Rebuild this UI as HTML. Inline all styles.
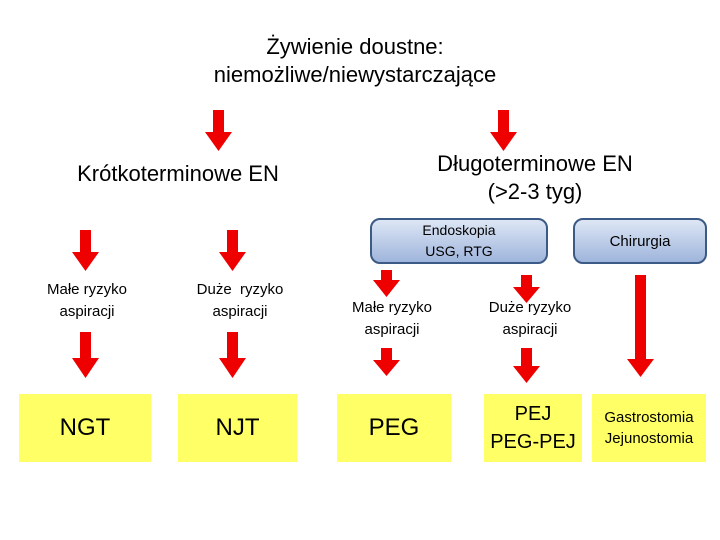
<!DOCTYPE html>
<html><head><meta charset="utf-8"><style>
body{margin:0;width:720px;height:540px;background:#fff;position:relative;overflow:hidden;font-family:"Liberation Sans",sans-serif;color:#000}
.t{position:absolute;text-align:center;white-space:nowrap;transform:translateX(-50%)}
.y{position:absolute;background:#ffff66;display:flex;align-items:center;justify-content:center;text-align:center}
.b{position:absolute;border:2px solid #3b5a85;border-radius:10px;background:linear-gradient(#dde6f5,#9fb5dc);display:flex;align-items:center;justify-content:center;text-align:center;font-size:14px;line-height:21px;box-sizing:border-box}
</style></head><body>
<svg width="720" height="540" style="position:absolute;left:0;top:0">
<g fill="#ee0000">
<path d="M213,110h11v22h8l-13.5,19l-13.5,-19h8z"/>
<path d="M498,110h11v22h8l-13.5,19l-13.5,-19h8z"/>
<path d="M80,230h11v22h8l-13.5,19l-13.5,-19h8z"/>
<path d="M227,230h11v22h8l-13.5,19l-13.5,-19h8z"/>
<path d="M80,332h11v26h8l-13.5,20l-13.5,-20h8z"/>
<path d="M227,332h11v26h8l-13.5,20l-13.5,-20h8z"/>
<path d="M381,270h11v10h8l-13.5,17l-13.5,-17h8z"/>
<path d="M521,275h11v12h8l-13.5,16l-13.5,-16h8z"/>
<path d="M381,348h11v12h8l-13.5,16l-13.5,-16h8z"/>
<path d="M521,348h11v18h8l-13.5,17l-13.5,-17h8z"/>
<path d="M635,275h11v84h8l-13.5,18l-13.5,-18h8z"/>
</g></svg>
<div class="t" style="left:355px;top:33px;font-size:22px;line-height:28px">Żywienie doustne:<br>niemożliwe/niewystarczające</div>
<div class="t" style="left:178px;top:161px;font-size:22px">Krótkoterminowe EN</div>
<div class="t" style="left:535px;top:150px;font-size:22px;line-height:28px">Długoterminowe EN<br>(&gt;2-3 tyg)</div>
<div class="b" style="left:370px;top:218px;width:178px;height:46px">Endoskopia<br>USG, RTG</div>
<div class="b" style="left:573px;top:218px;width:134px;height:46px;font-size:15px">Chirurgia</div>
<div class="t" style="left:87px;top:279px;font-size:15px;line-height:22px">Małe ryzyko<br>aspiracji</div>
<div class="t" style="left:240px;top:279px;font-size:15px;line-height:22px">Duże&nbsp; ryzyko<br>aspiracji</div>
<div class="t" style="left:392px;top:297px;font-size:15px;line-height:22px">Małe ryzyko<br>aspiracji</div>
<div class="t" style="left:530px;top:297px;font-size:15px;line-height:22px">Duże ryzyko<br>aspiracji</div>
<div class="y" style="left:19px;top:394px;width:132px;height:68px;font-size:24px">NGT</div>
<div class="y" style="left:178px;top:394px;width:119px;height:68px;font-size:24px">NJT</div>
<div class="y" style="left:337px;top:394px;width:114px;height:68px;font-size:24px">PEG</div>
<div class="y" style="left:484px;top:394px;width:98px;height:68px;font-size:20px;line-height:28px">PEJ<br>PEG-PEJ</div>
<div class="y" style="left:592px;top:394px;width:114px;height:68px;font-size:15px;line-height:21px">Gastrostomia<br>Jejunostomia</div>
</body></html>
